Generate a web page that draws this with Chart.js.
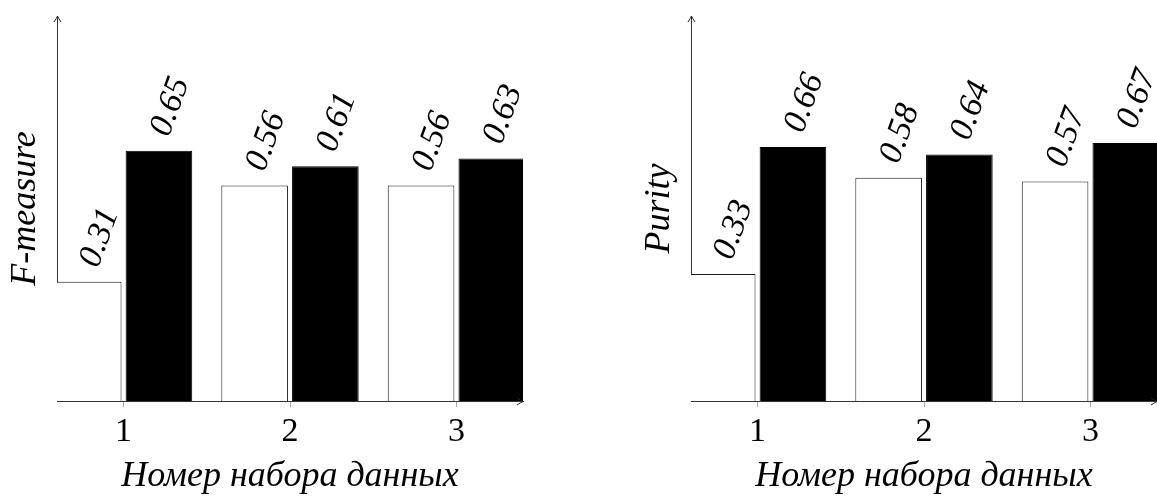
<!DOCTYPE html>
<html><head><meta charset="utf-8">
<script src="https://cdn.jsdelivr.net/npm/chart.js@4"></script>
<style>
html,body{margin:0;padding:0;background:#fff;overflow:hidden;width:1157px;height:502px;}
.wrap{position:absolute;top:0;width:580px;height:502px;}
#w1{left:0}
#w2{left:634px}
canvas{display:block}
</style></head><body>
<div class="wrap" id="w1"><canvas id="c1" width="580" height="502"></canvas></div>
<div class="wrap" id="w2"><canvas id="c2" width="580" height="502"></canvas></div>
<script>
const categories = [1, 2, 3];
const tickLabels = ['1', '2', '3'];
const fMeasureWhite = [0.31, 0.56, 0.56];
const fMeasureBlack = [0.65, 0.61, 0.63];
const purityWhite = [0.33, 0.58, 0.57];
const purityBlack = [0.66, 0.64, 0.67];
const xTitle = 'Номер набора данных';
const yTitleLeft = 'F-measure';
const yTitleRight = 'Purity';

const SERIF = '"Liberation Serif", "Times New Roman", serif';

const valueLabels = {
  id: 'valueLabels',
  afterDatasetsDraw(chart) {
    const ctx = chart.ctx;
    ctx.save();
    ctx.font = 'italic 34px ' + SERIF;
    ctx.fillStyle = '#000';
    ctx.textAlign = 'center';
    ctx.textBaseline = 'middle';
    chart.data.datasets.forEach((ds, di) => {
      chart.getDatasetMeta(di).data.forEach((el, i) => {
        const v = ds.data[i].y;
        ctx.save();
        ctx.translate(el.x + 11.5, el.y - 44);
        ctx.rotate(-70 * Math.PI / 180);
        ctx.fillText(v.toFixed(2), 0, 0);
        ctx.restore();
      });
    });
    ctx.restore();
  }
};

const axisArrows = {
  id: 'axisArrows',
  afterDraw(chart) {
    const {ctx, chartArea: a} = chart;
    ctx.save();
    ctx.strokeStyle = '#222';
    ctx.lineWidth = 1;
    ctx.beginPath();
    const bx = a.right, by = Math.round(a.bottom) + 0.5;
    ctx.moveTo(bx - 6, by - 3.5);
    ctx.quadraticCurveTo(bx - 2, by - 0.8, bx, by);
    ctx.quadraticCurveTo(bx - 2, by + 0.8, bx - 6, by + 3.5);
    const tx = Math.round(a.left) + 0.5, ty = a.top;
    ctx.moveTo(tx - 3.5, ty + 6);
    ctx.quadraticCurveTo(tx - 0.8, ty + 2, tx, ty);
    ctx.quadraticCurveTo(tx + 0.8, ty + 2, tx + 3.5, ty + 6);
    ctx.stroke();
    ctx.restore();
  }
};

function makeChart(id, white, black, yTitle) {
  const pts = v => categories.map((c, i) => ({x: c, y: v[i]}));
  return new Chart(document.getElementById(id), {
    type: 'bar',
    data: {
      datasets: [
        {data: pts(white), backgroundColor: '#fff', borderColor: '#1a1a1a', borderWidth: 1,
         clip: 0, categoryPercentage: 0.85, barPercentage: 0.942},
        {data: pts(black), backgroundColor: '#000', borderColor: '#000', borderWidth: 1,
         clip: 0, categoryPercentage: 0.85, barPercentage: 0.942}
      ]
    },
    options: {
      responsive: false,
      animation: false,
      devicePixelRatio: 1,
      layout: {padding: {left: 0, right: 57, top: 16, bottom: 0}},
      plugins: {legend: {display: false}, tooltip: {enabled: false}},
      scales: {
        x: {
          type: 'linear', min: 0.6, max: 3.4, offset: false,
          afterBuildTicks: s => { s.ticks = categories.map(v => ({value: v})); },
          afterFit: s => { s.height = 101; },
          ticks: {
            callback: v => tickLabels[categories.indexOf(v)],
            font: {family: SERIF, size: 34, lineHeight: 1},
            color: '#000', padding: 8, maxRotation: 0, autoSkip: false
          },
          grid: {display: true, offset: false, drawOnChartArea: false, drawTicks: true, tickLength: 6, color: '#aaa', lineWidth: 1},
          border: {display: true, color: '#333', width: 1},
          title: {display: true, text: xTitle, color: '#000',
                  font: {family: SERIF, style: 'italic', size: 36, lineHeight: 1},
                  padding: {top: 0, bottom: 7}}
        },
        y: {
          min: 0, max: 1,
          afterFit: s => { s.width = 57; },
          ticks: {display: false},
          grid: {display: false},
          border: {display: true, color: '#333', width: 1},
          title: {display: true, text: yTitle, color: '#000',
                  font: {family: SERIF, style: 'italic', size: 36, lineHeight: 1},
                  padding: {top: 8, bottom: 0}}
        }
      }
    },
    plugins: [valueLabels, axisArrows]
  });
}

makeChart('c1', fMeasureWhite, fMeasureBlack, yTitleLeft);
makeChart('c2', purityWhite, purityBlack, yTitleRight);
</script>
</body></html>
